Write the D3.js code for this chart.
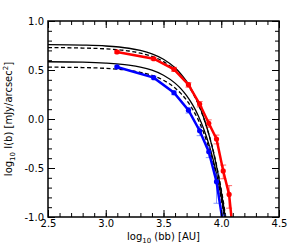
<!DOCTYPE html>
<html>
<head>
<meta charset="utf-8">
<script src="https://cdn.jsdelivr.net/npm/d3@7"></script>
<style>
  body { margin: 0; background: #fff; }
  text { font-family: "DejaVu Sans", sans-serif; }
</style>
</head>
<body>
<svg id="chart" width="293" height="249"></svg>
<script>
// log10 of projected radius, shared by both data sets
const obsX = [3.097, 3.415, 3.591, 3.716, 3.813, 3.892, 3.959, 4.017, 4.068, 4.114]
const redY = [0.684, 0.615, 0.507, 0.350, 0.153, -0.044, -0.204, -0.530, -0.770, -1.30]
const redErrLo = [0.012, 0.015, 0.02, 0.025, 0.03, 0.04, 0.05, 0.08, 0.14, 0.2]
const redErrHi = [0.012, 0.015, 0.02, 0.02, 0.025, 0.035, 0.04, 0.06, 0.09, 0.12]
const blueY = [0.531, 0.422, 0.268, 0.090, -0.120, -0.334, -0.640, -1.08, -1.6, -2.0]
const blueErrLo = [0.01, 0.015, 0.02, 0.03, 0.05, 0.06, 0.22, 0.3, 0.3, 0.3]
const blueErrHi = [0.01, 0.015, 0.02, 0.025, 0.04, 0.05, 0.08, 0.1, 0.1, 0.1]

// model curves
const modelX = [2.5, 2.8, 3.0, 3.2, 3.3, 3.4, 3.5, 3.6, 3.65, 3.7, 3.75, 3.8, 3.85, 3.9, 3.95, 4.0, 4.02, 4.04, 4.06]
const upperSolid = [0.759, 0.754, 0.745, 0.722, 0.700, 0.665, 0.610, 0.522, 0.461, 0.383, 0.286, 0.163, 0.008, -0.187, -0.431, -0.740, -0.884, -1.043, -1.217]
const upperDashed = [0.729, 0.724, 0.716, 0.694, 0.672, 0.639, 0.585, 0.500, 0.441, 0.366, 0.272, 0.153, 0.003, -0.185, -0.422, -0.720, -0.859, -1.013, -1.181]
const lowerSolid = [0.584, 0.580, 0.571, 0.550, 0.530, 0.498, 0.447, 0.366, 0.310, 0.238, 0.149, 0.036, -0.107, -0.286, -0.511, -0.795, -0.927, -1.074, -1.234]
const lowerDashed = [0.529, 0.525, 0.517, 0.496, 0.476, 0.445, 0.395, 0.316, 0.261, 0.191, 0.103, -0.007, -0.147, -0.322, -0.542, -0.820, -0.950, -1.093, -1.249]

const xMajor = [2.5, 3.0, 3.5, 4.0, 4.5]
const xLabels = ["2.5", "3.0", "3.5", "4.0", "4.5"]
const yMajor = [-1.0, -0.5, 0.0, 0.5, 1.0]
const yLabels = ["-1.0", "-0.5", "0.0", "0.5", "1.0"]

const margin = {left: 48, right: 14, top: 21, bottom: 32}
const width = 293 - margin.left - margin.right
const height = 249 - margin.top - margin.bottom

const x = d3.scaleLinear().domain([2.5, 4.5]).range([0, width])
const y = d3.scaleLinear().domain([-1, 1]).range([height, 0])

const svg = d3.select('#chart')
const g = svg.append('g')
.attr('transform', `translate(${margin.left},${margin.top})`)

g.append('clipPath')
.attr('id', 'plotClip')
.append('rect')
.attr('width', width)
.attr('height', height)

const plot = g.append('g').attr('clip-path', 'url(#plotClip)')

const line = d3.line()
.x(d => x(d[0]))
.y(d => y(d[1]))

function drawModel(values, dashed) {
  plot.append('path')
  .datum(modelX.map((v, i) => [v, values[i]]))
  .attr('fill', 'none')
  .attr('stroke', 'black')
  .attr('stroke-width', 1.3)
  .attr('stroke-dasharray', dashed ? '4,2.5' : null)
  .attr('d', line.curve(d3.curveMonotoneX))
}

drawModel(upperSolid, false)
drawModel(upperDashed, true)
drawModel(lowerSolid, false)
drawModel(lowerDashed, true)

function drawData(values, errLo, errHi, color, errColor) {
  const pts = obsX.map((v, i) => ({x: v, y: values[i], lo: errLo[i], hi: errHi[i]}))

  const eb = plot.append('g')
  .selectAll('g')
  .data(pts)
  .enter()
  .append('g')
  .attr('stroke', errColor)
  .attr('stroke-width', 1)
  eb.append('line')
  .attr('x1', d => x(d.x)).attr('x2', d => x(d.x))
  .attr('y1', d => y(d.y - d.lo)).attr('y2', d => y(d.y + d.hi))
  eb.append('line')
  .attr('x1', d => x(d.x) - 3).attr('x2', d => x(d.x) + 3)
  .attr('y1', d => y(d.y - d.lo)).attr('y2', d => y(d.y - d.lo))
  eb.append('line')
  .attr('x1', d => x(d.x) - 3).attr('x2', d => x(d.x) + 3)
  .attr('y1', d => y(d.y + d.hi)).attr('y2', d => y(d.y + d.hi))

  plot.append('path')
  .datum(pts.map(d => [d.x, d.y]))
  .attr('fill', 'none')
  .attr('stroke', color)
  .attr('stroke-width', 2.5)
  .attr('d', line.curve(d3.curveLinear))

  plot.append('g')
  .selectAll('circle')
  .data(pts)
  .enter()
  .append('circle')
  .attr('cx', d => x(d.x))
  .attr('cy', d => y(d.y))
  .attr('r', 2.6)
  .attr('fill', color)
}

drawData(redY, redErrLo, redErrHi, '#ff0000', 'rgba(255,0,0,0.6)')
drawData(blueY, blueErrLo, blueErrHi, '#0000ff', 'rgba(60,90,255,0.6)')

// axes, ticks pointing inward on all four sides
const xMinor = d3.range(25, 46).map(v => v / 10)
const yMinor = d3.range(-10, 11).map(v => v / 10)

function styleAxis(sel) {
  sel.select('.domain').remove()
  sel.selectAll('line').attr('stroke', 'black').attr('stroke-width', 1)
  sel.selectAll('text').attr('font-size', 10).attr('fill', 'black')
}

g.append('g').attr('transform', `translate(0,${height})`)
.call(d3.axisBottom(x).tickValues(xMinor).tickSize(-4).tickFormat(''))
.call(styleAxis)
g.append('g').attr('transform', `translate(0,${height})`)
.call(d3.axisBottom(x).tickValues(xMajor).tickSize(-7).tickPadding(3)
  .tickFormat((d, i) => xLabels[i]))
.call(styleAxis)
g.append('g')
.call(d3.axisTop(x).tickValues(xMinor).tickSize(-4).tickFormat(''))
.call(styleAxis)
g.append('g')
.call(d3.axisTop(x).tickValues(xMajor).tickSize(-7).tickFormat(''))
.call(styleAxis)

g.append('g')
.call(d3.axisLeft(y).tickValues(yMinor).tickSize(-4).tickFormat(''))
.call(styleAxis)
g.append('g')
.call(d3.axisLeft(y).tickValues(yMajor).tickSize(-7).tickPadding(4)
  .tickFormat((d, i) => yLabels[i]))
.call(styleAxis)
g.append('g').attr('transform', `translate(${width},0)`)
.call(d3.axisRight(y).tickValues(yMinor).tickSize(-4).tickFormat(''))
.call(styleAxis)
g.append('g').attr('transform', `translate(${width},0)`)
.call(d3.axisRight(y).tickValues(yMajor).tickSize(-7).tickFormat(''))
.call(styleAxis)

g.append('rect')
.attr('width', width)
.attr('height', height)
.attr('fill', 'none')
.attr('stroke', 'black')
.attr('stroke-width', 1.5)

// axis titles
const xTitle = svg.append('text')
.attr('x', margin.left + width / 2)
.attr('y', 240)
.attr('text-anchor', 'middle')
.attr('font-size', 10)
xTitle.append('tspan').text('log')
xTitle.append('tspan').attr('font-size', 7).attr('dy', 2.5).text('10')
xTitle.append('tspan').attr('dy', -2.5).text(' (bb) [AU]')

const yTitle = svg.append('text')
.attr('transform', `translate(12,${margin.top + height / 2}) rotate(-90)`)
.attr('text-anchor', 'middle')
.attr('font-size', 10)
yTitle.append('tspan').text('log')
yTitle.append('tspan').attr('font-size', 7).attr('dy', 2.5).text('10')
yTitle.append('tspan').attr('dy', -2.5).text(' I(b) [mJy/arcsec')
yTitle.append('tspan').attr('font-size', 7).attr('dy', -4).text('2')
yTitle.append('tspan').attr('dy', 4).text(']')
</script>
</body>
</html>
